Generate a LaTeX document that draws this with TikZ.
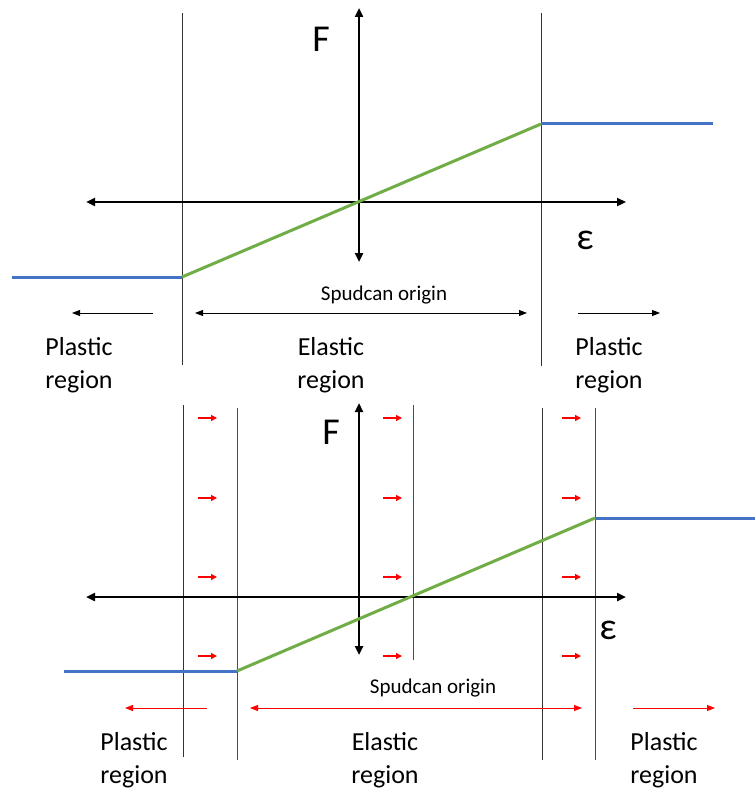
\documentclass[tikz,border=0pt]{standalone}
\usepackage{fontspec}
\setmainfont{Carlito}
\usetikzlibrary{arrows.meta}
\definecolor{offblue}{RGB}{68,114,196}
\definecolor{offgreen}{RGB}{112,173,71}

\begin{document}
\begin{tikzpicture}[x=1pt, y=-1pt,
  axis/.style={{Triangle[length=9pt,width=8pt]}-{Triangle[length=9pt,width=8pt]}, line width=2.7pt},
  limit/.style={draw=black!80, line width=1pt},
  moved/.style={draw=red, line width=1pt},
  plast/.style={offblue, line width=3pt},
  elast/.style={offgreen, line width=3pt},
  dir/.style={-{Triangle[length=8pt,width=6pt]}, line width=0.9pt},
  twodir/.style={{Triangle[length=8pt,width=6pt]}-{Triangle[length=8pt,width=6pt]}, line width=0.9pt},
  push/.style={-{Triangle[length=6pt,width=6pt]}, red, line width=1.3pt},
  lbl/.style={align=center, font=\fontsize{26}{33}\selectfont},
  sym/.style={font=\fontsize{38}{40}\selectfont},
  note/.style={font=\fontsize{21}{23}\selectfont}]
\useasboundingbox (0,0) rectangle (755,789);

% top: original limits
\draw[limit] (182,13) -- (182,365);
\draw[limit] (541,13) -- (541,366);
\draw[axis] (86,202) -- (626,202);
\draw[axis] (359,8) -- (359,262);
\coordinate (yl1) at (182,277);
\coordinate (yr1) at (541,124);
\draw[plast] (12,277) -- (yl1);
\draw[plast] (yr1) -- (713,124);
\draw[elast] (yl1) -- (yr1);
\node[sym] (f1) at (321,39) {F};
\node[sym] (eps1) at (585,240) {ε};
\node[note] (sp1) at (384,295) {Spudcan origin};
\draw[twodir] (195,313) -- (527,313);
\draw[dir] (153,313) -- (72,313);
\draw[dir] (578,313) -- (660,313);
\node[lbl] (pl1) at (79,365) {Plastic\\region};
\node[lbl] (el1) at (331,365) {Elastic\\region};
\node[lbl] (pr1) at (609,365) {Plastic\\region};

% bottom: limits shifted
\draw[limit] (183,405) -- (183,757);
\draw[limit] (542,408) -- (542,760);
\draw[moved] (237,408) -- (237,760);
\draw[moved] (413,405) -- (413,660);
\draw[moved] (595,408) -- (595,760);
\foreach \x in {198,383,562}
  \foreach \y in {418,498,577,656}
    \draw[push] (\x,\y) -- ++(19,0);
\draw[axis] (86,597) -- (626,597);
\draw[axis] (359,403) -- (359,655);
\coordinate (yl2) at (237,671);
\coordinate (yr2) at (595,518);
\draw[plast] (64,671) -- (yl2);
\draw[plast] (yr2) -- (755,518);
\draw[elast] (yl2) -- (yr2);
\node[sym] (f2) at (331,432) {F};
\node[sym] (eps2) at (608,630) {ε};
\node[note] (sp2) at (433,688) {Spudcan origin};
\draw[twodir, red] (250,708) -- (582,708);
\draw[dir, red] (207,708) -- (125,708);
\draw[dir, red] (633,708) -- (715,708);
\node[lbl] (pl2) at (134,760) {Plastic\\region};
\node[lbl] (el2) at (385,760) {Elastic\\region};
\node[lbl] (pr2) at (664,760) {Plastic\\region};
\end{tikzpicture}
\end{document}
